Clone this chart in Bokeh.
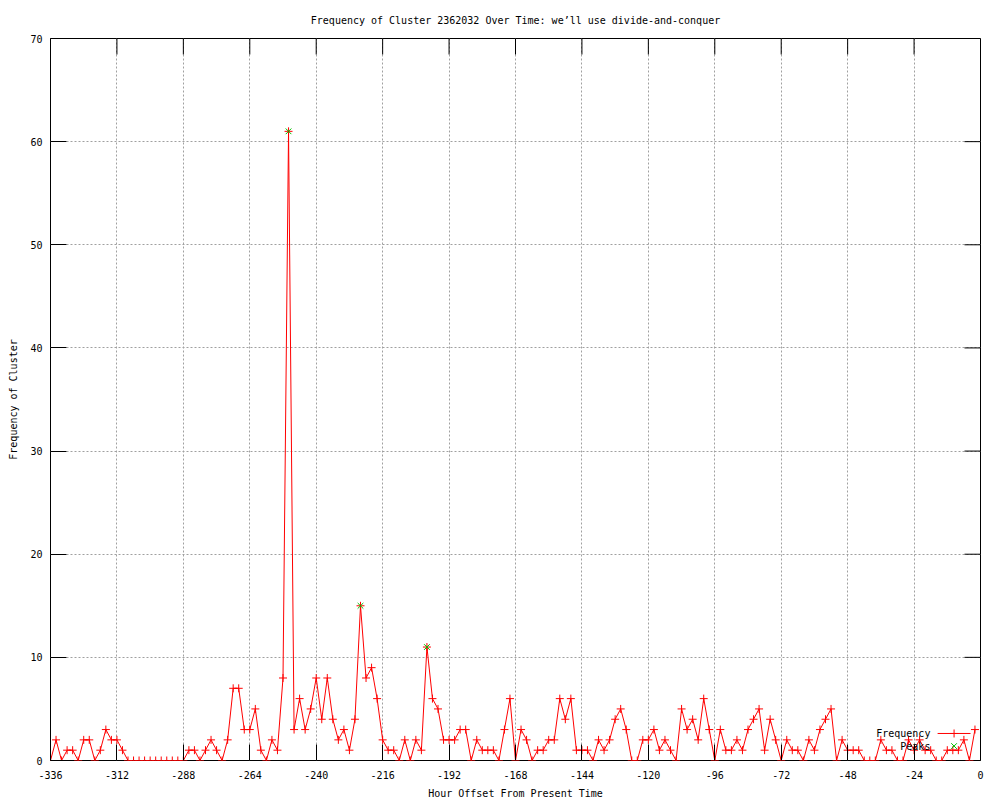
from bokeh.plotting import figure
from bokeh.models import Range1d, FixedTicker
from bokeh.embed import file_html
from bokeh.resources import INLINE
from bokeh.core.properties import value

# ---------------- data ----------------
hours = list(range(-336, 0, 2))  # sample hours, every 2 h

freq = [
    0, 2, 0, 1, 1, 0, 2, 2, 0, 1,
    3, 2, 2, 1, 0, 0, 0, 0, 0, 0,
    0, 0, 0, 0, 0, 1, 1, 0, 1, 2,
    1, 0, 2, 7, 7, 3, 3, 5, 1, 0,
    2, 1, 8, 61, 3, 6, 3, 5, 8, 4,
    8, 4, 2, 3, 1, 4, 15, 8, 9, 6,
    2, 1, 1, 0, 2, 0, 2, 1, 11, 6,
    5, 2, 2, 2, 3, 3, 0, 2, 1, 1,
    1, 0, 3, 6, 0, 3, 2, 0, 1, 1,
    2, 2, 6, 4, 6, 1, 1, 1, 0, 2,
    1, 2, 4, 5, 3, 0, 0, 2, 2, 3,
    1, 2, 1, 0, 5, 3, 4, 2, 6, 3,
    0, 3, 1, 1, 2, 1, 3, 4, 5, 1,
    4, 2, 0, 2, 1, 1, 0, 2, 1, 3,
    4, 5, 0, 2, 1, 1, 1, 0, 0, 0,
    2, 1, 1, 0, 0, 2, 1, 2, 1, 1,
    0, 0, 1, 1, 1, 2, 0, 3,
]

peak_hours = [-250, -224, -200]
peak_values = [61, 15, 11]

x_ticks = [-336, -312, -288, -264, -240, -216, -192, -168, -144, -120, -96, -72, -48, -24, 0]
x_tick_labels = ["-336", "-312", "-288", "-264", "-240", "-216", "-192", "-168",
                 "-144", "-120", "-96", "-72", "-48", "-24", "0"]
y_ticks = [0, 10, 20, 30, 40, 50, 60, 70]
y_tick_labels = ["0", "10", "20", "30", "40", "50", "60", "70"]

legend_labels = ["Frequency", "Peaks"]

title_text = "Frequency of Cluster 2362032 Over Time: we\u2019ll use divide-and-conquer"
x_label = "Hour Offset From Present Time"
y_label = "Frequency of Cluster"

# ---------------- style ----------------
FONT = "DejaVu Sans Mono"
FS = "10px"
RED = "#ff0000"
GREEN = "#00c000"
GRID = "#a0a0a0"
FRAME_W, FRAME_H = 930, 722
X0, X1, Y0, Y1 = -336, 0, 0, 70
TICK_PX = 16

p = figure(
    frame_width=FRAME_W, frame_height=FRAME_H,
    x_range=Range1d(X0, X1), y_range=Range1d(Y0, Y1),
    output_backend="svg", toolbar_location=None,
    min_border_left=50, min_border_right=18, min_border_top=38, min_border_bottom=39,
    background_fill_color="white", border_fill_color="white",
)

p.title.text = title_text
p.title.align = "center"
p.title.vertical_align = "top"
p.title.text_font = FONT
p.title.text_font_size = FS
p.title.text_font_style = "normal"
p.title.text_color = "black"
p.title.standoff = 22

p.outline_line_color = "black"
p.outline_line_width = 1
p.outline_line_alpha = 1

for ax, ticks, labels in ((p.xaxis[0], x_ticks, x_tick_labels), (p.yaxis[0], y_ticks, y_tick_labels)):
    ax.ticker = FixedTicker(ticks=ticks)
    ax.major_label_overrides = {t: l for t, l in zip(ticks, labels)}
    ax.axis_line_color = None
    ax.major_tick_in = TICK_PX
    ax.major_tick_out = 0
    ax.major_tick_line_color = "black"
    ax.minor_tick_line_color = None
    ax.major_label_text_font = FONT
    ax.major_label_text_font_size = FS
    ax.major_label_text_color = "black"
    ax.axis_label_text_font = FONT
    ax.axis_label_text_font_size = FS
    ax.axis_label_text_font_style = "normal"
    ax.axis_label_text_color = "black"

p.xaxis[0].axis_label = x_label
p.xaxis[0].major_label_standoff = 10
p.xaxis[0].axis_label_standoff = 6
p.yaxis[0].axis_label = y_label
p.yaxis[0].major_label_standoff = 8
p.yaxis[0].axis_label_standoff = 8

p.xgrid.grid_line_color = GRID
p.xgrid.grid_line_dash = "2 2"
p.ygrid.grid_line_color = GRID
p.ygrid.grid_line_dash = "2 2"

# mirrored inward ticks on top and right border (gnuplot style)
dy_tick = TICK_PX * (Y1 - Y0) / FRAME_H
dx_tick = TICK_PX * (X1 - X0) / FRAME_W
p.segment(x0=x_ticks, y0=[Y1] * len(x_ticks), x1=x_ticks, y1=[Y1 - dy_tick] * len(x_ticks),
          line_color="black", line_width=1)
p.segment(x0=[X1] * len(y_ticks), y0=y_ticks, x1=[X1 - dx_tick] * len(y_ticks), y1=y_ticks,
          line_color="black", line_width=1)

# data
p.line(hours, freq, line_color=RED, line_width=1)
p.scatter(hours, freq, marker="cross", size=8, line_color=RED, line_width=1)
p.scatter(peak_hours, peak_values, marker="x", size=8, line_color=GREEN, line_width=1)

# key (gnuplot style: label left, sample right)
key_text_x = -18.1
key_sample_x0, key_sample_x1 = -15.5, -3.6
key_rows_y = [2.62, 1.40]
p.text(x=[key_text_x, key_text_x], y=key_rows_y, text=legend_labels,
       text_font=value(FONT), text_font_size=FS, text_align="right",
       text_baseline="middle", text_color="black")
p.line([key_sample_x0, key_sample_x1], [key_rows_y[0], key_rows_y[0]], line_color=RED, line_width=1)
p.scatter([(key_sample_x0 + key_sample_x1) / 2], [key_rows_y[0]], marker="cross", size=8,
          line_color=RED, line_width=1)
p.scatter([(key_sample_x0 + key_sample_x1) / 2], [key_rows_y[1]], marker="x", size=8,
          line_color=GREEN, line_width=1)

open("out.html", "w").write(file_html(p, INLINE))
